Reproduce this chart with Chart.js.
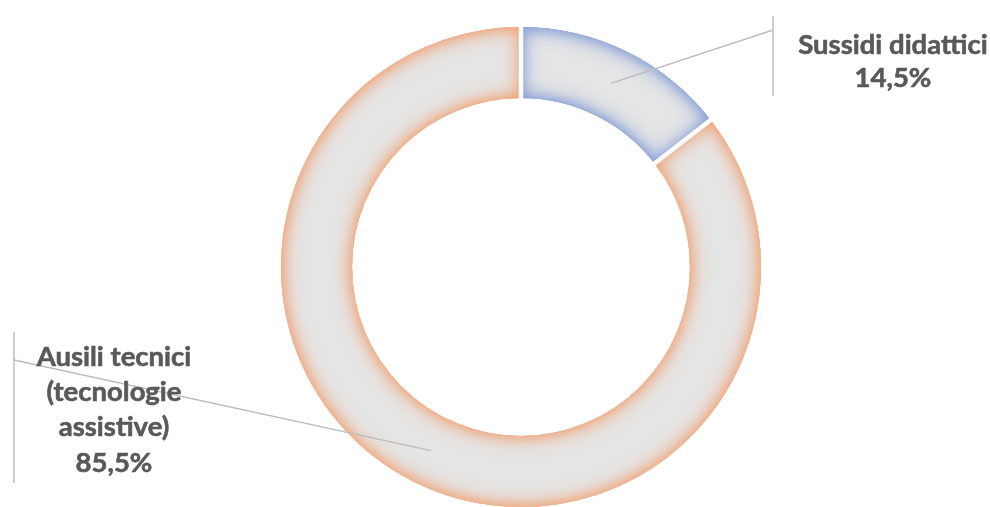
<!DOCTYPE html>
<html>
<head>
<meta charset="utf-8">
<script src="https://cdn.jsdelivr.net/npm/chart.js@4/dist/chart.umd.min.js"></script>
<style>
  html, body { margin: 0; padding: 0; background: #ffffff; }
  #wrap { width: 990px; height: 507px; position: relative; }
</style>
</head>
<body>
<div id="wrap"><canvas id="c" width="990" height="507"></canvas></div>
<script>
// ---- data ----
const categories = ['Sussidi didattici', 'Ausili tecnici (tecnologie assistive)'];
const labelLines = [['Sussidi didattici'], ['Ausili tecnici', '(tecnologie', 'assistive)']];
const values = [14.5, 85.5];

// ---- styles ----
const fillGray = '#e5e5e5';
const glowColors = ['rgb(132,158,216)', 'rgb(240,163,118)'];
const textColor = '#595959';
const leaderColor = '#bcbcbc';

// label boxes: text centre x, first line centre y, line spacing, bracket x, bracket top/bottom, leader end y
const labelLayout = [
  { cx: 893, y0: 45, dy: 33, bx: 773, bTop: 16, bBottom: 96, ly: 30 },
  { cx: 114, y0: 357, dy: 35.3, bx: 14, bTop: 332, bBottom: 483, ly: 360 }
];

function sectorPath(ctx, x, y, sa, ea, ir, or) {
  ctx.moveTo(x + or * Math.cos(sa), y + or * Math.sin(sa));
  ctx.arc(x, y, or, sa, ea);
  ctx.lineTo(x + ir * Math.cos(ea), y + ir * Math.sin(ea));
  ctx.arc(x, y, ir, ea, sa, true);
  ctx.closePath();
}

const glowPlugin = {
  id: 'glow',
  afterDatasetsDraw(chart) {
    const ctx = chart.ctx;
    const meta = chart.getDatasetMeta(0);
    meta.data.forEach((arc, i) => {
      const p = arc.getProps(['x', 'y', 'startAngle', 'endAngle', 'innerRadius', 'outerRadius'], true);
      ctx.save();
      ctx.beginPath();
      sectorPath(ctx, p.x, p.y, p.startAngle, p.endAngle, p.innerRadius, p.outerRadius);
      ctx.clip();
      ctx.beginPath();
      ctx.rect(-3000, -3000, 7000, 7000);
      sectorPath(ctx, p.x, p.y, p.startAngle, p.endAngle, p.innerRadius, p.outerRadius);
      ctx.shadowColor = glowColors[i];
      ctx.fillStyle = glowColors[i];
      ctx.shadowBlur = 22;
      ctx.fill('evenodd');
      ctx.shadowBlur = 12;
      ctx.fill('evenodd');
      ctx.restore();
    });
    // white gaps between segments
    ctx.save();
    ctx.strokeStyle = '#ffffff';
    ctx.lineWidth = 4.5;
    meta.data.forEach(arc => {
      const p = arc.getProps(['x', 'y', 'startAngle', 'innerRadius', 'outerRadius'], true);
      const a = p.startAngle;
      ctx.beginPath();
      ctx.moveTo(p.x + (p.innerRadius - 2) * Math.cos(a), p.y + (p.innerRadius - 2) * Math.sin(a));
      ctx.lineTo(p.x + (p.outerRadius + 2) * Math.cos(a), p.y + (p.outerRadius + 2) * Math.sin(a));
      ctx.stroke();
    });
    ctx.restore();
  },
  afterDraw(chart) {
    const ctx = chart.ctx;
    const meta = chart.getDatasetMeta(0);
    meta.data.forEach((arc, i) => {
      const L = labelLayout[i];
      const tp = arc.tooltipPosition(true);
      ctx.save();
      ctx.strokeStyle = leaderColor;
      ctx.lineWidth = 1.5;
      ctx.beginPath();
      ctx.moveTo(tp.x, tp.y);
      ctx.lineTo(L.bx, L.ly);
      ctx.stroke();
      ctx.beginPath();
      ctx.moveTo(L.bx, L.bTop);
      ctx.lineTo(L.bx, L.bBottom);
      ctx.stroke();
      const lines = labelLines[i].concat([values[i].toFixed(1).replace('.', ',') + '%']);
      ctx.fillStyle = textColor;
      ctx.strokeStyle = textColor;
      ctx.lineWidth = 0.6;
      ctx.font = 'bold 27.5px Lato';
      ctx.textAlign = 'center';
      ctx.textBaseline = 'middle';
      lines.forEach((t, k) => {
        ctx.fillText(t, L.cx, L.y0 + k * L.dy);
        ctx.strokeText(t, L.cx, L.y0 + k * L.dy);
      });
      ctx.restore();
    });
  }
};

new Chart(document.getElementById('c'), {
  type: 'doughnut',
  data: {
    labels: categories,
    datasets: [{
      data: values,
      backgroundColor: [fillGray, fillGray],
      borderWidth: 0
    }]
  },
  options: {
    responsive: false,
    animation: false,
    cutout: '70.4%',
    layout: { padding: { left: 281, right: 229, top: 27, bottom: 0 } },
    plugins: { legend: { display: false }, tooltip: { enabled: false } }
  },
  plugins: [glowPlugin]
});
</script>
</body>
</html>
